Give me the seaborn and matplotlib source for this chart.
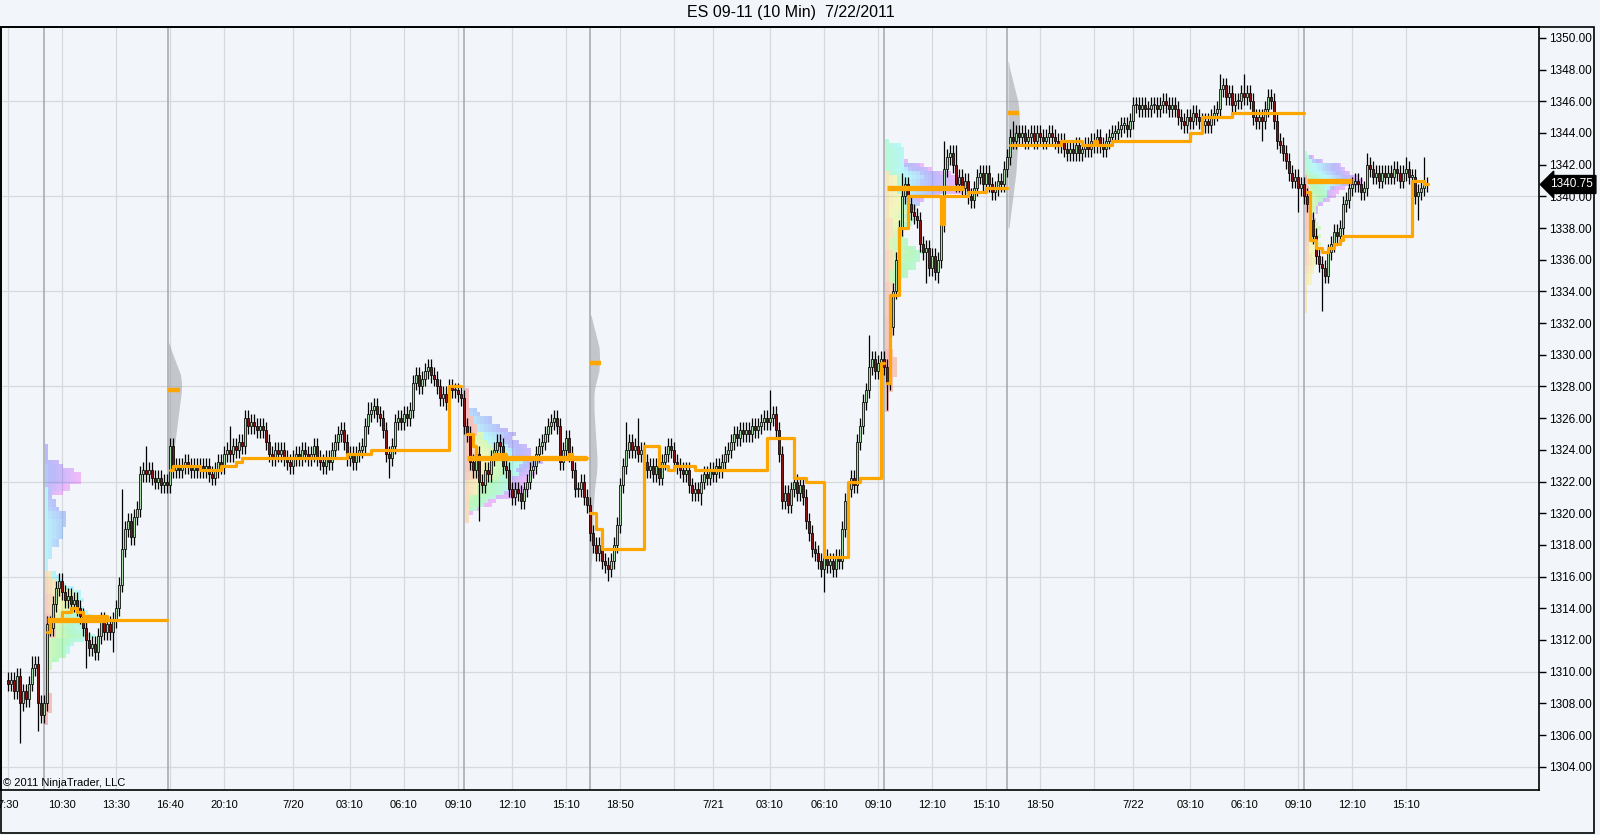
import numpy as np
import pandas as pd
import seaborn as sns
import matplotlib.pyplot as plt
from matplotlib.patches import Rectangle

# ES 09-11, 10 min bars, bar 0 = 7/19 07:30 ; closes per session
close_pre = [1309.25, 1309.5, 1308.75, 1309.75, 1308.0, 1308.75, 1308.25, 1309.25, 1310.25, 1310.5, 1308.0, 1307.25]
close_rth1 = [1308.0, 1313.0, 1312.75, 1314.25, 1315.25, 1315.75, 1315.0, 1314.5, 1314.75, 1314.25,
              1314.5, 1314.0, 1313.5, 1312.75, 1312.0, 1311.5, 1311.75, 1311.25, 1312.25, 1313.25,
              1312.5, 1313.0, 1312.5, 1313.25, 1314.0, 1315.5, 1317.75, 1319.0, 1319.5, 1318.5,
              1319.75, 1320.25, 1322.5, 1322.75, 1322.5, 1322.75, 1322.25, 1322.0, 1322.25, 1321.75,
              1322.0, 1321.75]
close_eth1 = [1324.25, 1322.75, 1323.0, 1322.75, 1323.0, 1323.25,
              1323.0, 1322.75, 1323.0, 1322.75, 1323.0, 1322.75, 1323.0, 1322.5, 1322.25, 1322.75,
              1323.25, 1323.0, 1323.75, 1324.0, 1323.75, 1324.25, 1324.0, 1324.5, 1324.25, 1326.0,
              1325.5, 1325.75, 1325.5, 1325.25, 1325.5, 1325.25, 1324.5, 1323.75, 1323.5, 1324.0,
              1323.75, 1324.0, 1323.5, 1323.25, 1323.0, 1323.5, 1323.75, 1323.5, 1324.0, 1323.75,
              1323.5, 1323.75, 1324.25, 1323.5, 1323.25, 1323.0, 1323.5, 1323.25, 1324.0, 1324.5,
              1325.0, 1325.25, 1324.5, 1323.5, 1323.75, 1323.25, 1323.75, 1324.0, 1324.25, 1325.5,
              1326.25, 1326.5, 1326.75, 1326.25, 1326.0, 1325.25, 1323.75, 1323.5, 1324.25, 1325.75,
              1326.0, 1325.75, 1326.25, 1326.0, 1326.5, 1328.25, 1328.75, 1328.0, 1328.5, 1329.0,
              1329.25, 1328.75, 1328.5, 1328.0, 1327.25, 1327.5, 1327.0, 1328.0, 1327.75, 1327.75,
              1327.5, 1327.25]
close_rth2 = [1325.5, 1325.0, 1323.25, 1322.75, 1323.75, 1322.0, 1321.75, 1322.75,
              1322.5, 1323.5, 1324.0, 1324.5, 1324.25, 1323.0, 1322.75, 1321.5, 1321.0, 1321.5,
              1321.25, 1320.75, 1321.5, 1322.0, 1322.75, 1323.0, 1323.75, 1324.25, 1324.5, 1325.0,
              1325.5, 1325.75, 1326.0, 1325.5, 1323.25, 1324.0, 1324.75, 1323.75, 1322.75, 1321.5,
              1321.5, 1322.0, 1321.0, 1320.5]
close_eth2 = [1318.75, 1318.0, 1317.5, 1318.0, 1317.0, 1316.75,
              1316.5, 1317.0, 1318.0, 1319.25, 1321.75, 1323.0, 1324.0, 1324.5, 1324.0, 1324.25,
              1323.75, 1324.0, 1323.25, 1322.75, 1323.0, 1322.5, 1323.0, 1322.25, 1323.25, 1323.75,
              1324.25, 1324.0, 1323.25, 1323.0, 1322.75, 1322.5, 1322.75, 1321.75, 1321.25, 1321.5,
              1321.25, 1322.0, 1322.5, 1322.25, 1322.75, 1322.5, 1323.0, 1322.75, 1323.25, 1323.75,
              1324.0, 1324.5, 1325.0, 1324.75, 1325.25, 1325.0, 1325.25, 1325.0, 1325.5, 1325.25,
              1325.5, 1325.75, 1326.0, 1325.75, 1326.0, 1326.25, 1325.25, 1323.75, 1320.75, 1321.25,
              1320.5, 1321.5, 1322.0, 1321.25, 1321.75, 1321.0, 1319.5, 1318.75, 1317.75, 1317.5,
              1317.0, 1316.5, 1317.25, 1316.75, 1317.0, 1316.5, 1317.25, 1317.0, 1319.0, 1320.75,
              1321.5, 1322.25, 1321.75, 1324.5, 1325.5, 1327.0, 1327.75, 1329.25, 1329.75, 1329.0,
              1329.5, 1329.75]
close_rth3 = [1329.25, 1328.25, 1331.75, 1334.0, 1336.0, 1338.0, 1340.0, 1340.75,
              1339.5, 1339.0, 1338.75, 1338.5, 1337.0, 1336.5, 1336.75, 1335.5, 1336.25, 1335.25,
              1336.0, 1338.25, 1341.75, 1342.5, 1342.75, 1342.0, 1340.75, 1341.25, 1340.5, 1341.0,
              1340.0, 1339.75, 1340.5, 1341.25, 1341.5, 1340.75, 1341.5, 1340.75, 1340.25, 1340.5,
              1341.0, 1340.75, 1341.75]
close_eth3 = [1342.5, 1343.75, 1343.5, 1344.0, 1343.75, 1344.0, 1343.5,
              1343.75, 1344.0, 1343.5, 1344.0, 1343.75, 1343.5, 1343.75, 1344.0, 1343.75, 1343.5,
              1343.25, 1343.5, 1343.0, 1342.75, 1343.0, 1342.75, 1343.25, 1342.75, 1343.0, 1343.25,
              1343.0, 1343.5, 1343.25, 1343.75, 1343.25, 1343.0, 1343.5, 1343.75, 1344.0, 1344.0,
              1344.25, 1344.5, 1344.5, 1344.25, 1344.75, 1345.75, 1345.75, 1345.5, 1345.75, 1345.5,
              1345.5, 1345.75, 1345.75, 1345.5, 1345.75, 1346.0, 1345.75, 1345.5, 1345.75, 1345.5,
              1345.0, 1344.75, 1344.5, 1345.0, 1344.75, 1345.25, 1345.0, 1344.75, 1344.5, 1344.75,
              1344.5, 1345.0, 1345.25, 1345.5, 1346.75, 1347.0, 1346.25, 1346.5, 1345.75, 1346.0,
              1346.0, 1346.5, 1346.25, 1346.5, 1346.0, 1345.0, 1344.75, 1345.0, 1344.75, 1345.5,
              1346.25, 1346.0, 1344.75, 1343.5, 1343.25, 1342.75, 1342.25, 1341.5, 1341.0, 1341.25,
              1340.5, 1340.75]
close_rth4 = [1340.0, 1339.5, 1338.5, 1337.5, 1336.25, 1335.75, 1335.5, 1335.0,
              1336.5, 1337.0, 1337.75, 1337.5, 1338.0, 1339.5, 1339.75, 1340.5, 1340.75, 1341.0,
              1340.75, 1340.25, 1340.5, 1342.0, 1341.75, 1341.25, 1341.5, 1341.0, 1341.5, 1341.25,
              1341.5, 1341.25, 1341.75, 1341.5, 1341.0, 1341.5, 1341.75, 1341.25, 1341.25, 1340.0,
              1340.25, 1340.5, 1340.75, 1340.75]
first_open = 1309.5

# long wicks (bar -> price)
hi_spikes = {8: 1311.0, 17: 1316.25, 38: 1321.5, 46: 1324.25, 54: 1324.75, 74: 1325.5, 79: 1326.5,
             112: 1325.5, 120: 1327.0, 140: 1329.75, 182: 1326.0, 206: 1325.75, 210: 1326.0,
             254: 1327.75, 287: 1331.25, 298: 1341.5, 312: 1343.5, 316: 1343.25, 335: 1344.75,
             404: 1347.75, 412: 1347.75, 420: 1346.75, 453: 1342.75, 466: 1342.5, 472: 1342.5}
lo_spikes = {4: 1305.5, 10: 1306.25, 26: 1310.25, 35: 1311.25, 127: 1322.25, 157: 1319.5,
             200: 1315.75, 231: 1320.5, 272: 1315.0, 293: 1326.5, 306: 1334.5, 310: 1334.5,
             418: 1343.5, 430: 1339.0, 438: 1332.75, 470: 1338.5}

session_lines = [12, 53.3, 152, 194, 292, 333, 432]
rth_sessions = [(12, 53), (152, 193), (292, 332), (432, 473)]
profile_w = [1.2, 1.3, 1.3, 0.75]

tick_pos = [0, 18, 36, 54, 72, 95, 114, 132, 150, 168, 186, 204, 222, 235, 254, 272, 290,
            308, 326, 344, 362, 375, 394, 412, 430, 448, 466]
tick_lbl = ["7:30", "10:30", "13:30", "16:40", "20:10", "7/20", "03:10", "06:10", "09:10", "12:10",
            "15:10", "18:50", "", "7/21", "03:10", "06:10", "09:10", "12:10", "15:10", "18:50", "",
            "7/22", "03:10", "06:10", "09:10", "12:10", "15:10"]

# developing POC step lines
step_rth1_x = [13, 14, 18, 21, 23, 25, 30, 33, 53]
step_rth1_y = [1312.5, 1313.25, 1313.75, 1314.0, 1313.75, 1313.5, 1313.5, 1313.25, 1313.25]
step_eth1_x = [54, 55, 64, 71, 76, 78, 113, 121, 147, 151]
step_eth1_y = [1322.75, 1323.0, 1322.75, 1323.0, 1323.25, 1323.5, 1323.75, 1324.0, 1328.0, 1328.0]
step_rth2_x = [153, 155, 156, 162, 166, 187, 188, 193]
step_rth2_y = [1325.0, 1324.25, 1323.5, 1323.75, 1323.5, 1323.75, 1323.5, 1323.5]
step_eth2_x = [194, 196, 198, 212, 217, 220, 222, 229, 253, 262, 266, 272, 280, 284, 291, 292]
step_eth2_y = [1320.0, 1319.0, 1317.75, 1324.25, 1323.0, 1322.75, 1323.0, 1322.75, 1324.75, 1322.25,
               1322.0, 1317.25, 1322.0, 1322.25, 1329.5, 1329.5]
step_rth3_x = [293, 294, 297, 300, 311, 312, 320, 326, 333]
step_rth3_y = [1328.25, 1333.75, 1338.0, 1340.0, 1338.25, 1340.0, 1340.25, 1340.5, 1340.5]
step_eth3_x = [334, 351, 358, 362, 363, 368, 394, 398, 408, 432]
step_eth3_y = [1343.25, 1343.5, 1343.25, 1343.5, 1343.25, 1343.5, 1344.0, 1345.0, 1345.25, 1345.25]
step_rth4_x = [433, 434, 436, 438, 440, 442, 444, 445, 468, 472, 473.3]
step_rth4_y = [1340.25, 1337.25, 1336.75, 1336.5, 1336.75, 1337.0, 1337.25, 1337.5, 1341.0, 1340.75, 1340.75]

# session POC (thick) lines
poc_x0 = [13, 153, 293, 433]
poc_x1 = [33, 193, 318.5, 448]
poc_y = [1313.25, 1323.5, 1340.5, 1341.0]

# overnight gray profiles: price levels and widths in px
gray1_x = 53.5
gray1_lv = [1330.75, 1330.25, 1329.75, 1329.25, 1328.75, 1328.25, 1327.75, 1327.25, 1326.75, 1326.25,
            1325.75, 1325.25, 1324.75, 1324.25, 1323.75, 1323.25, 1322.75, 1322.25, 1321.75, 1321.25]
gray1_w = [0.5, 3, 6, 9, 12, 13, 13, 12, 11, 10, 9, 8, 7, 6, 5, 4, 3, 2.5, 1.5, 0.5]
gray2_x = 194
gray2_lv = [1332.5, 1332.0, 1331.5, 1331.0, 1330.5, 1330.0, 1329.5, 1329.0, 1328.5, 1328.0, 1327.5, 1327.0,
            1326.5, 1326.0, 1325.5, 1325.0, 1324.5, 1324.0, 1323.5, 1323.0, 1322.5, 1322.0, 1321.5, 1321.0,
            1320.5, 1320.0, 1319.5, 1319.0, 1318.5, 1318.0, 1317.5, 1317.0, 1316.5, 1316.0, 1315.5, 1315.0]
gray2_w = [1, 3, 5, 7, 9, 9.5, 9.5, 9, 7, 5, 4, 4, 4, 4.5, 5, 5.5, 6, 6.5, 7, 7, 6.5, 5.5, 4.5, 4,
           3.5, 3, 3, 2.5, 2.5, 2, 2, 1.5, 1, 1, 0.5, 0.5]
gray3_x = 333.3
gray3_lv = [1348.5, 1348.0, 1347.5, 1347.0, 1346.5, 1346.0, 1345.5, 1345.0, 1344.5, 1344.0, 1343.5,
            1343.0, 1342.5, 1342.0, 1341.5, 1341.0, 1340.5, 1340.0, 1339.5, 1339.0, 1338.5, 1338.0]
gray3_w = [0.5, 2, 4, 6, 8, 10, 11, 11.5, 11.5, 11, 10, 9.5, 9, 8.5, 8, 7, 6, 5, 4, 3, 2, 1]
mark_x = [53.5, 194, 333.3]
mark_y = [1327.75, 1329.5, 1345.25]

last_price = 1340.75

sns.set_style("white")
plt.rcParams['font.family'] = ['Liberation Sans', 'DejaVu Sans']
bg = '#f2f5f9'
orange = '#ffa500'

close = np.array(close_pre + close_rth1 + close_eth1 + close_rth2 + close_eth2 +
                 close_rth3 + close_eth3 + close_rth4)
bars = np.arange(len(close))
opn = np.concatenate([[first_open], close[:-1]])
top = np.maximum(opn, close)
bot = np.minimum(opn, close)
high = top + 0.5
low = bot - 0.5
for b, v in hi_spikes.items():
    high[b] = max(high[b], v)
for b, v in lo_spikes.items():
    low[b] = min(low[b], v)
df = pd.DataFrame({'bar': bars, 'open': opn, 'close': close, 'high': high, 'low': low})
df['up'] = df['close'] >= df['open']

fig = plt.figure(figsize=(16, 8.35), dpi=100, facecolor=bg)
ax = fig.add_axes([1 / 1600, 45 / 835, 1538 / 1600, 763 / 835], facecolor=bg)

# grid
for v in [1304, 1310, 1316, 1322, 1328, 1334, 1340, 1346]:
    ax.axhline(v, color='#d6dade', lw=0.9, zorder=0)
for s in session_lines:
    ax.axvline(s, color='#a3a7ab', lw=1.1, zorder=0.5)

# rainbow time profiles for the day sessions
cmap = plt.get_cmap('hsv')
for (b0, b1), w in zip(rth_sessions, profile_w):
    counts = {}
    ys, xs, cs = [], [], []
    nb = b1 - b0 + 1
    for k, b in enumerate(range(b0, b1 + 1)):
        col = cmap(0.83 * k / (nb - 1))
        lv = np.ceil(df['low'][b] * 4) / 4
        while lv <= df['high'][b] + 1e-6:
            key = int(round(lv * 4))
            c = counts.get(key, 0)
            ys.append(lv)
            xs.append(b0 + 0.3 + c * w)
            cs.append(col)
            counts[key] = c + 1
            lv += 0.25
    ax.barh(ys, w, left=xs, height=0.25, color=cs, alpha=0.24, lw=0, zorder=1)

# gray overnight profiles
for gx, glv, gw in [(gray1_x, gray1_lv, gray1_w), (gray2_x, gray2_lv, gray2_w), (gray3_x, gray3_lv, gray3_w)]:
    ax.fill_betweenx(glv, gx, gx + np.array(gw) / 3, color='#9da1a6', alpha=0.55, lw=0, zorder=1.5)
for mx, my in zip(mark_x, mark_y):
    ax.hlines(my, mx, mx + 3.7, color=orange, lw=3.2, zorder=5)

# candles
ax.vlines(df['bar'], df['low'], df['high'], colors='black', lw=0.9, zorder=2.8)
body = np.maximum(top - bot, 0.1)
cols = np.where(df['up'], '#a6dca6', '#8b1212')
ax.bar(df['bar'], body, bottom=bot, width=0.72, color=cols, edgecolor='black', linewidth=0.55, zorder=3)

# POC lines
ax.hlines(poc_y, poc_x0, poc_x1, color=orange, lw=3.8, zorder=4)
for sx, sy in [(step_rth1_x, step_rth1_y), (step_eth1_x, step_eth1_y), (step_rth2_x, step_rth2_y),
               (step_eth2_x, step_eth2_y), (step_rth3_x, step_rth3_y), (step_eth3_x, step_eth3_y),
               (step_rth4_x, step_rth4_y)]:
    sns.lineplot(x=sx, y=sy, drawstyle='steps-post', color=orange, lw=2.3, ax=ax,
                 estimator=None, sort=False, zorder=4.5)

ax.set_xlim(-2.33, 510.33)
ax.set_ylim(1302.53, 1350.69)
ax.set_xticks(tick_pos)
ax.set_xticklabels(tick_lbl)
ax.grid(axis='x', color='#d6dade', lw=0.9, zorder=0)
ax.set_axisbelow(True)
ax.yaxis.tick_right()
yt = list(range(1304, 1351, 2))
ax.set_yticks(yt)
ax.set_yticklabels([f"{v:.2f}" for v in yt])
ax.tick_params(axis='x', direction='out', length=5, width=1, labelsize=8, pad=2, colors='black')
ax.tick_params(axis='y', direction='out', length=5, width=1, labelsize=8.5, pad=2, colors='black')
ax.set_xlabel('')
ax.set_ylabel('')
for sp in ax.spines.values():
    sp.set_color('black')
    sp.set_linewidth(1.2)

ax.text(1.0072, last_price, f"{last_price:.2f}", transform=ax.get_yaxis_transform(), ha='left',
        va='center', color='white', fontsize=8.5, zorder=10, clip_on=False,
        bbox=dict(boxstyle='larrow,pad=0.25', fc='black', ec='black'))
ax.text(0.0015, 0.0095, "\u00a9 2011 NinjaTrader, LLC", transform=ax.transAxes, ha='left',
        va='center', fontsize=8, color='black', zorder=10)

fig.text(0.494, 0.9856, "ES 09-11 (10 Min)  7/22/2011", ha='center', va='center', fontsize=11.5, color='black')
fig.patches.append(Rectangle((0.0004, 0.0024), 0.9958, 0.9653, transform=fig.transFigure,
                             fill=False, ec='black', lw=1.2))

fig.savefig('out.png', dpi=100, facecolor=bg)
